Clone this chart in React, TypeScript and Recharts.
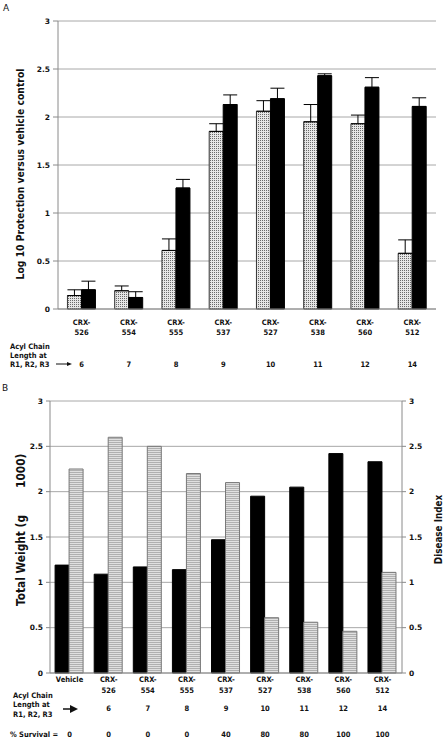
import React from 'react';
import { BarChart, Bar, XAxis, YAxis, CartesianGrid, ErrorBar } from 'recharts';

const topCategories = ['CRX-526', 'CRX-554', 'CRX-555', 'CRX-537', 'CRX-527', 'CRX-538', 'CRX-560', 'CRX-512'];
const topDotted = [0.14, 0.19, 0.61, 1.85, 2.06, 1.95, 1.93, 0.58];
const topDottedUpper = [0.2, 0.24, 0.73, 1.93, 2.17, 2.13, 2.02, 0.72];
const topBlack = [0.2, 0.12, 1.26, 2.13, 2.19, 2.43, 2.31, 2.11];
const topBlackUpper = [0.29, 0.18, 1.35, 2.23, 2.3, 2.45, 2.41, 2.2];
const topAcyl = ['6', '7', '8', '9', '10', '11', '12', '14'];
const yTicks = [0, 0.5, 1, 1.5, 2, 2.5, 3];

const bottomCategories = ['Vehicle', 'CRX-526', 'CRX-554', 'CRX-555', 'CRX-537', 'CRX-527', 'CRX-538', 'CRX-560', 'CRX-512'];
const bottomWeight = [1.19, 1.09, 1.17, 1.14, 1.47, 1.95, 2.05, 2.42, 2.33];
const bottomDisease = [2.25, 2.6, 2.5, 2.2, 2.1, 0.61, 0.56, 0.46, 1.11];
const bottomAcyl = ['', '6', '7', '8', '9', '10', '11', '12', '14'];
const bottomSurvival = ['0', '0', '0', '0', '40', '80', '80', '100', '100'];

const topData = topCategories.map((c, i) => ({
  name: c,
  dotted: topDotted[i],
  black: topBlack[i],
  dErr: [0, +(topDottedUpper[i] - topDotted[i]).toFixed(3)],
  bErr: [0, +(topBlackUpper[i] - topBlack[i]).toFixed(3)],
}));

const bottomData = bottomCategories.map((c, i) => ({
  name: c,
  weight: bottomWeight[i],
  disease: bottomDisease[i],
}));

const F = "'DejaVu Sans', Verdana, sans-serif";
const FC = "'DejaVu Sans Condensed', 'DejaVu Sans', Verdana, sans-serif";
const GRID = '#a8a8a8';
const AXIS = '#8a8a8a';

const TopTick = (props: any) => {
  const { x, y, payload, index } = props;
  const parts = String(payload.value).split('-');
  return (
    <g fontFamily={FC} fontWeight="bold" fontSize={7.5} fill="#111" textAnchor="middle">
      <text x={x} y={y + 15.5}>{parts[0] + '-'}</text>
      <text x={x} y={y + 26}>{parts[1]}</text>
      <text x={x} y={y + 58}>{topAcyl[index]}</text>
    </g>
  );
};

const BottomTick = (props: any) => {
  const { x, y, payload, index } = props;
  const v = String(payload.value);
  const parts = v.split('-');
  return (
    <g fontFamily={FC} fontWeight="bold" fontSize={7.5} fill="#111" textAnchor="middle">
      {parts.length === 1 ? (
        <text x={x} y={y + 8.5}>{v}</text>
      ) : (
        <>
          <text x={x} y={y + 8.5}>{parts[0] + '-'}</text>
          <text x={x} y={y + 19.5}>{parts[1]}</text>
        </>
      )}
      <text x={x} y={y + 38}>{bottomAcyl[index]}</text>
      <text x={x} y={y + 64}>{bottomSurvival[index]}</text>
    </g>
  );
};

const yTickStyle = { fontFamily: F, fontWeight: 'bold' as const, fontSize: 7.5, fill: '#111' };

export default function App() {
  return (
    <div style={{ position: 'absolute', left: 0, top: 0, width: 443, height: 738, background: '#fff', overflow: 'hidden' }}>
      <svg width={0} height={0} style={{ position: 'absolute' }}>
        <defs>
          <pattern id="dots" width={2} height={2} patternUnits="userSpaceOnUse">
            <rect width={2} height={2} fill="#e6e6e6" />
            <rect width={1} height={1} fill="#6a6a6a" />
          </pattern>
          <pattern id="hlines" width={2} height={2} patternUnits="userSpaceOnUse">
            <rect width={2} height={2} fill="#e0e0e0" />
            <rect width={2} height={1} fill="#b0b0b0" />
          </pattern>
        </defs>
      </svg>

      <div style={{ position: 'absolute', left: 0, top: 0 }}>
        <BarChart width={443} height={380} data={topData} margin={{ top: 21, right: 7, left: 0, bottom: 0 }} barCategoryGap="20%" barGap={0}>
          <CartesianGrid vertical={false} stroke={GRID} yAxisId="l" />
          <XAxis dataKey="name" height={71} tick={<TopTick />} tickLine={false} tickSize={0} tickMargin={0} axisLine={{ stroke: AXIS }} interval={0} />
          <YAxis yAxisId="l" width={58} domain={[0, 3]} ticks={yTicks} tick={yTickStyle} tickSize={5} tickMargin={3} tickLine={{ stroke: AXIS }} axisLine={{ stroke: AXIS }} />
          <YAxis yAxisId="r" orientation="right" width={0} domain={[0, 3]} ticks={yTicks} tick={false} tickLine={false} axisLine={{ stroke: AXIS }} />
          <Bar yAxisId="l" dataKey="dotted" fill="url(#dots)" stroke="#333" strokeWidth={1} isAnimationActive={false}>
            <ErrorBar dataKey="dErr" width={7} stroke="#000" strokeWidth={1} direction="y" />
          </Bar>
          <Bar yAxisId="l" dataKey="black" fill="#000" stroke="#000" strokeWidth={1} isAnimationActive={false}>
            <ErrorBar dataKey="bErr" width={7} stroke="#000" strokeWidth={1} direction="y" />
          </Bar>
        </BarChart>
      </div>

      <div style={{ position: 'absolute', left: 0, top: 380 }}>
        <BarChart width={443} height={358} data={bottomData} margin={{ top: 21, right: 0, left: 0, bottom: 0 }} barCategoryGap="13%" barGap={0}>
          <CartesianGrid vertical={false} stroke={GRID} yAxisId="l" />
          <XAxis dataKey="name" height={65} tick={<BottomTick />} tickLine={false} tickSize={0} tickMargin={0} axisLine={{ stroke: AXIS }} interval={0} />
          <YAxis yAxisId="l" width={50} domain={[0, 3]} ticks={yTicks} tick={yTickStyle} tickSize={4} tickMargin={3} tickLine={{ stroke: AXIS }} axisLine={{ stroke: AXIS }} />
          <YAxis yAxisId="r" orientation="right" width={41} domain={[0, 3]} ticks={yTicks} tick={yTickStyle} tickSize={4} tickMargin={3} tickLine={{ stroke: AXIS }} axisLine={{ stroke: AXIS }} />
          <Bar yAxisId="l" dataKey="weight" fill="#000" stroke="#000" strokeWidth={1} isAnimationActive={false} />
          <Bar yAxisId="r" dataKey="disease" fill="url(#hlines)" stroke="#777" strokeWidth={1} isAnimationActive={false} />
        </BarChart>
      </div>

      <svg width={443} height={738} style={{ position: 'absolute', left: 0, top: 0, pointerEvents: 'none' }}>
        <g fontFamily={F} fill="#111">
          <text x={3} y={11} fontSize={9}>A</text>
          <text x={2} y={391} fontSize={9}>B</text>
        </g>
        <g fontFamily={FC} fontWeight="bold" fill="#111">
          <text transform="translate(23.5,174) rotate(-90)" fontSize={10.3} textAnchor="middle">Log 10 Protection versus vehicle control</text>
          <text transform="translate(25,606) rotate(-90)" fontSize={11.8} textAnchor="start">
            Total Weight (g<tspan dx={27}>1000)</tspan>
          </text>
          <text transform="translate(442,529.5) rotate(-90)" fontSize={9.8} textAnchor="middle">Disease Index</text>
        </g>
        <g fontFamily={FC} fontWeight="bold" fontSize={7.5} fill="#111">
          <text x={10} y={348.5}>Acyl Chain</text>
          <text x={10} y={357.5}>Length at</text>
          <text x={10} y={366.5}>R1, R2, R3</text>
          <text x={13} y={697.5}>Acyl Chain</text>
          <text x={13} y={707}>Length at</text>
          <text x={13} y={717}>R1, R2, R3</text>
          <text x={10} y={737}>% Survival =</text>
        </g>
        <line x1={56} y1={364} x2={69} y2={364} stroke="#111" strokeWidth={1} />
        <polygon points="67,362 72,364 67,366" fill="#111" />
        <line x1={63} y1={709} x2={71} y2={709} stroke="#111" strokeWidth={1.5} />
        <polygon points="70,705 78,709 70,713" fill="#111" />
      </svg>
    </div>
  );
}
